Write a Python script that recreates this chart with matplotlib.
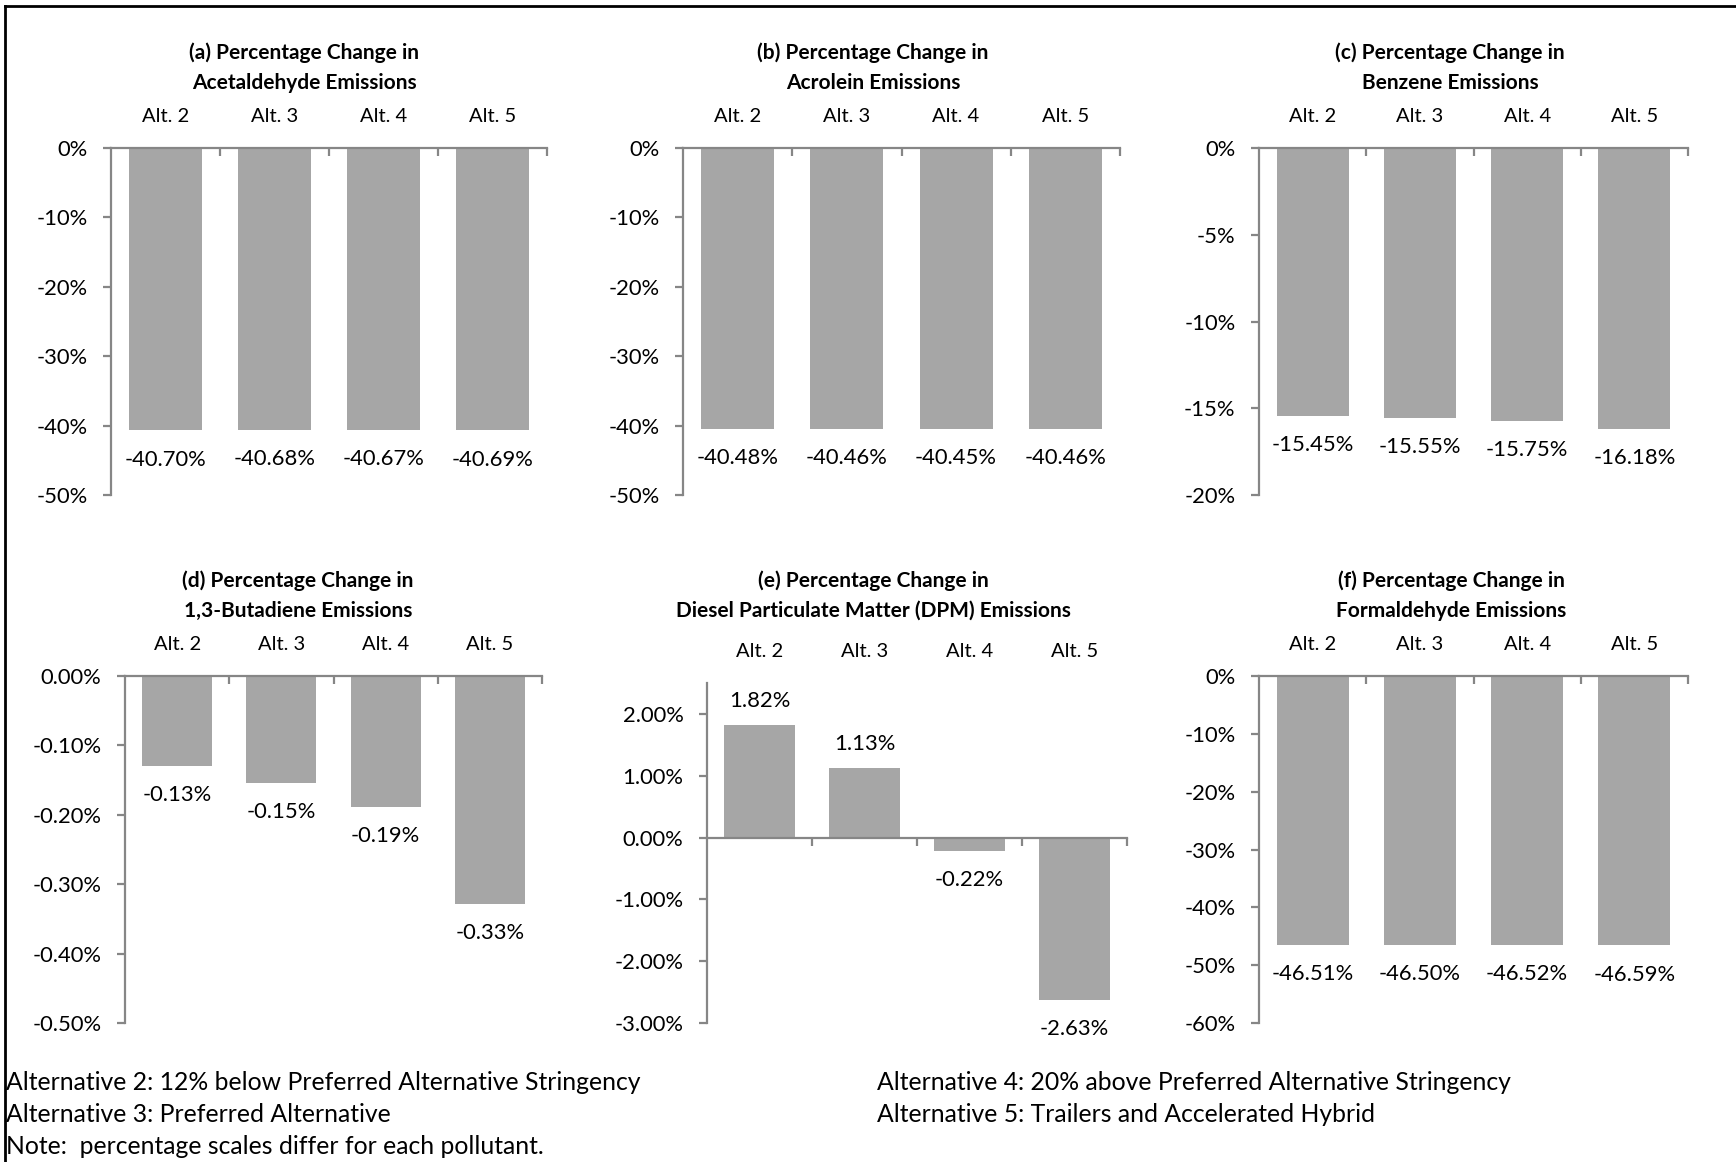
import matplotlib
matplotlib.use("Agg")
import matplotlib.pyplot as plt
from matplotlib.lines import Line2D
from matplotlib.ticker import FixedLocator, FuncFormatter

plt.rcParams['font.family'] = ['Lato', 'DejaVu Sans']

W, H = 1736, 1162
fig = plt.figure(figsize=(W / 100, H / 100), dpi=100)

categories = ['Alt. 2', 'Alt. 3', 'Alt. 4', 'Alt. 5']

acetaldehyde = [-40.70, -40.68, -40.67, -40.69]
acrolein = [-40.48, -40.46, -40.45, -40.46]
benzene = [-15.45, -15.55, -15.75, -16.18]
butadiene = [-0.129, -0.154, -0.189, -0.328]
dpm = [1.82, 1.13, -0.22, -2.63]
formaldehyde = [-46.51, -46.50, -46.52, -46.59]

titles = [
    ('(a) Percentage Change in', 'Acetaldehyde Emissions'),
    ('(b) Percentage Change in', 'Acrolein Emissions'),
    ('(c) Percentage Change in', 'Benzene Emissions'),
    ('(d) Percentage Change in', '1,3-Butadiene Emissions'),
    ('(e) Percentage Change in', 'Diesel Particulate Matter (DPM) Emissions'),
    ('(f) Percentage Change in', 'Formaldehyde Emissions'),
]

yticks_a = [0, -10, -20, -30, -40, -50]
yticks_b = [0, -10, -20, -30, -40, -50]
yticks_c = [0, -5, -10, -15, -20]
yticks_d = [0.0, -0.1, -0.2, -0.3, -0.4, -0.5]
yticks_e = [2.0, 1.0, 0.0, -1.0, -2.0, -3.0]
yticks_f = [0, -10, -20, -30, -40, -50, -60]

notes_left = ['Alternative 2: 12% below Preferred Alternative Stringency',
              'Alternative 3: Preferred Alternative',
              'Note:  percentage scales differ for each pollutant.']
notes_right = ['Alternative 4: 20% above Preferred Alternative Stringency',
               'Alternative 5: Trailers and Accelerated Hybrid']

BAR = '#A6A6A6'
AXC = '#868686'
FS_CAT = 14.5
FS_TICK = 15.8
FS_LAB = 15.8
FS_TITLE = 15
FS_NOTE = 17.8

# layout (pixels): x0, x1, y_top, y_bottom, title center x, title y1, title y2
panels = [
    (acetaldehyde, titles[0], yticks_a, (-50, 0), 0, (111, 547, 148, 495), 304, 53, 83),
    (acrolein, titles[1], yticks_b, (-50, 0), 0, (683, 1120, 148, 495), 873, 53, 83),
    (benzene, titles[2], yticks_c, (-20, 0), 0, (1259, 1688, 148, 495), 1450, 53, 83),
    (butadiene, titles[3], yticks_d, (-0.5, 0), 2, (125, 542, 676, 1023), 298, 581, 611),
    (dpm, titles[4], yticks_e, (-3.0, 2.5), 2, (707, 1127, 683, 1023), 873, 581, 611),
    (formaldehyde, titles[5], yticks_f, (-60, 0), 0, (1259, 1688, 676, 1023), 1451, 581, 611),
]


def fmt_factory(dec):
    def f(v, pos=None):
        if abs(v) < 1e-12:
            v = 0.0
        return f"{v:.{dec}f}%"
    return f


for vals, (t1, t2), yt, ylim, dec, (x0, x1, yt_px, yb_px), tcx, ty1, ty2 in panels:
    ax = fig.add_axes([x0 / W, 1 - yb_px / H, (x1 - x0) / W, (yb_px - yt_px) / H])
    xs = list(range(len(categories)))
    ax.bar(xs, vals, width=0.67, color=BAR, zorder=2)
    ax.set_xlim(-0.5, len(categories) - 0.5)
    ax.set_ylim(*ylim)
    for s in ('top', 'right'):
        ax.spines[s].set_visible(False)
    ax.spines['bottom'].set_position(('data', 0))
    for s in ('bottom', 'left'):
        ax.spines[s].set_color(AXC)
        ax.spines[s].set_linewidth(1.6)
    ax.spines['bottom'].set_zorder(3)
    ax.xaxis.set_major_locator(FixedLocator([i + 0.5 for i in xs]))
    ax.xaxis.set_major_formatter(FuncFormatter(lambda v, p: ''))
    ax.tick_params(axis='x', direction='out', length=6, width=1.6, color=AXC)
    ax.yaxis.set_major_locator(FixedLocator(yt))
    ax.yaxis.set_major_formatter(FuncFormatter(fmt_factory(dec)))
    ax.tick_params(axis='y', direction='out', length=6, width=1.6, color=AXC,
                   labelsize=FS_TICK, pad=11)
    for i, c in enumerate(categories):
        ax.annotate(c, xy=(i, 1), xycoords=('data', 'axes fraction'),
                    xytext=(0, 23), textcoords='offset points',
                    ha='center', va='center', fontsize=FS_CAT)
    for i, v in enumerate(vals):
        lab = f"{v:.2f}%"
        off = 17 if v > 0 else -21
        ax.annotate(lab, xy=(i, v), xytext=(0, off), textcoords='offset points',
                    ha='center', va='center', fontsize=FS_LAB)
    fig.text(tcx / W, 1 - ty1 / H, t1, ha='center', va='center',
             fontsize=FS_TITLE, fontweight='bold')
    fig.text(tcx / W, 1 - ty2 / H, t2, ha='center', va='center',
             fontsize=FS_TITLE, fontweight='bold')

for k, t in enumerate(notes_left):
    fig.text(6 / W, 1 - (1083 + 31.5 * k) / H, t, ha='left', va='center', fontsize=FS_NOTE)
for k, t in enumerate(notes_right):
    fig.text(877 / W, 1 - (1083 + 31.5 * k) / H, t, ha='left', va='center', fontsize=FS_NOTE)

# outer frame: top and left border
fig.add_artist(Line2D([5 / W, 1.0], [1 - 6 / H, 1 - 6 / H], color='black', lw=2,
                      transform=fig.transFigure))
fig.add_artist(Line2D([5 / W, 5 / W], [0, 1 - 6 / H], color='black', lw=2,
                      transform=fig.transFigure))

fig.savefig('out.png', dpi=100)
